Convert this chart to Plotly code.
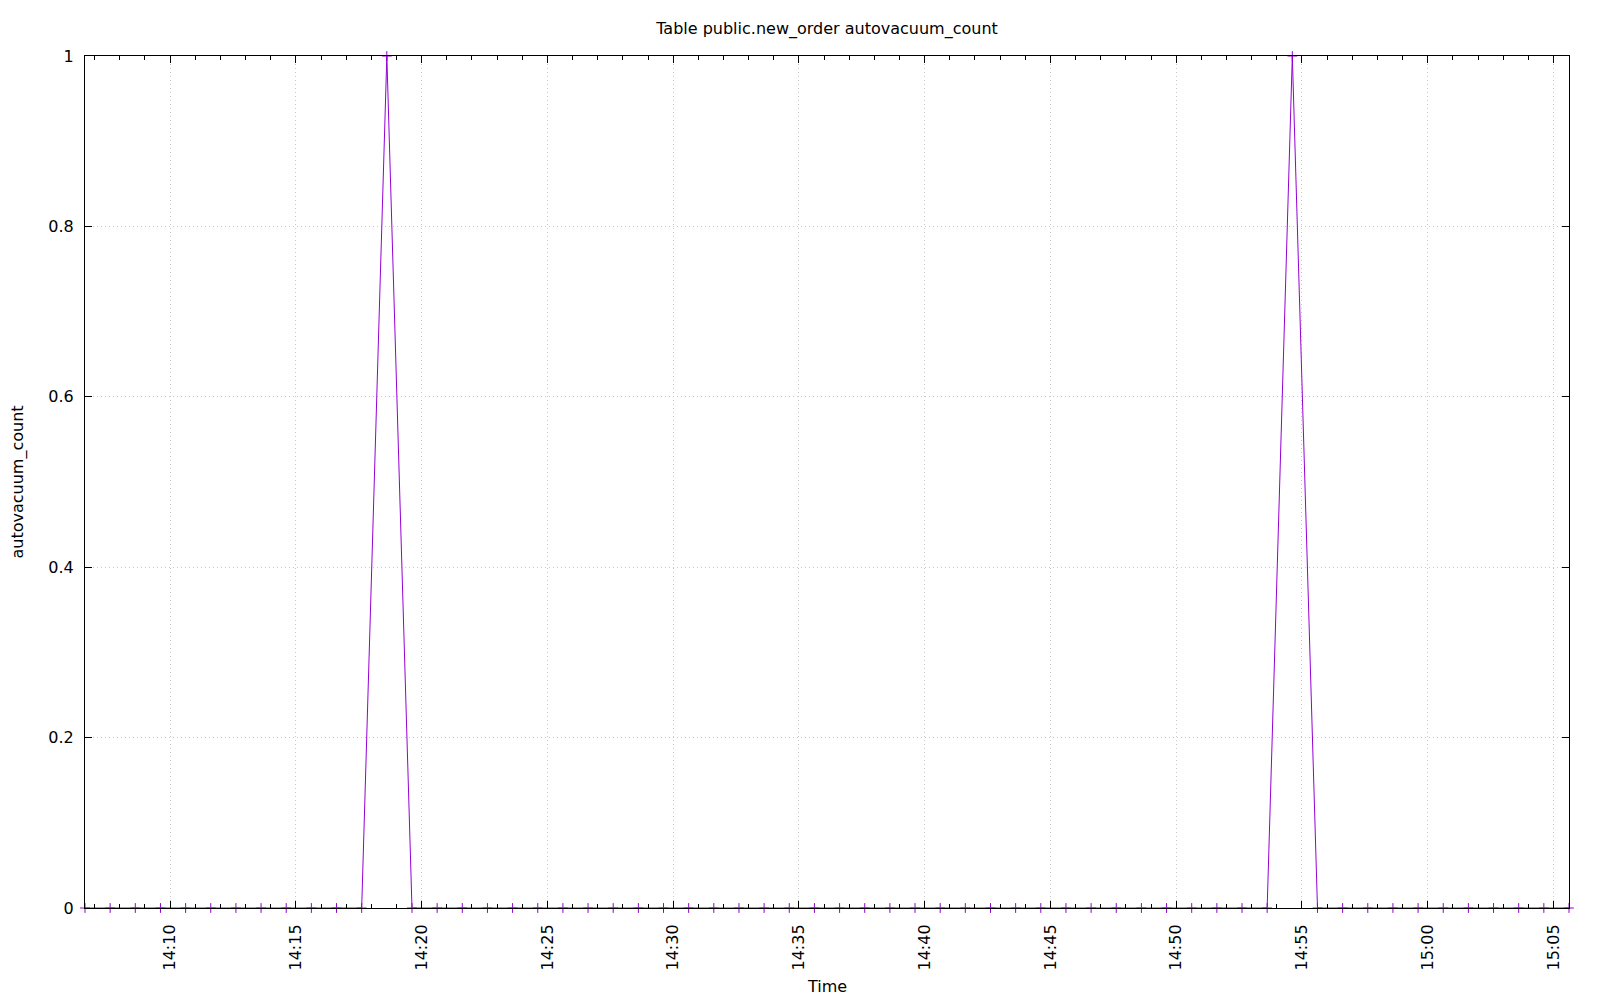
import pandas as pd
import plotly.graph_objects as go

# Sample times: one sample per minute
start_time = "2020-01-01 14:06:37"
n_samples = 60
times = pd.date_range(start=start_time, periods=n_samples, freq="60s")

autovacuum_count = [
    0, 0, 0, 0, 0, 0, 0, 0, 0, 0,
    0, 0, 1, 0, 0, 0, 0, 0, 0, 0,
    0, 0, 0, 0, 0, 0, 0, 0, 0, 0,
    0, 0, 0, 0, 0, 0, 0, 0, 0, 0,
    0, 0, 0, 0, 0, 0, 0, 0, 1, 0,
    0, 0, 0, 0, 0, 0, 0, 0, 0, 0,
]

title_text = "Table public.new_order autovacuum_count"
x_title = "Time"
y_title = "autovacuum_count"
y_tickvals = [0, 0.2, 0.4, 0.6, 0.8, 1]
y_ticktext = ["0", "0.2", "0.4", "0.6", "0.8", "1"]

color = "#9400D3"
font = "DejaVu Sans"
fsize = 16

fig = go.Figure()
fig.add_trace(go.Scatter(
    x=times, y=autovacuum_count,
    mode="lines+markers",
    line=dict(color=color, width=1),
    marker=dict(symbol="cross-thin", size=7, line=dict(color=color, width=1), color=color),
    cliponaxis=False,
    showlegend=False,
))

axis_common = dict(
    showline=True, linecolor="black", linewidth=1, mirror="ticks",
    ticks="inside", tickcolor="black", tickwidth=1,
    showgrid=True, gridcolor="#c8c8c8", griddash="1px,3px", gridwidth=1,
    zeroline=False,
    tickfont=dict(family=font, size=fsize, color="black"),
)

# page body has an 8px margin; figure sized so the plot lands at the reference pixels
fig.update_layout(
    width=1592, height=992,
    paper_bgcolor="white", plot_bgcolor="white",
    margin=dict(l=77, r=31, t=48, b=92, autoexpand=False),
    title=dict(text=title_text, x=0.5, xref="paper", xanchor="center",
               y=1 - 20.6 / 992, yanchor="middle",
               font=dict(family=font, size=fsize, color="black")),
    font=dict(family=font, size=fsize, color="black"),
    xaxis=dict(
        **axis_common,
        type="date",
        range=[times[0], times[-1]],
        tick0="2020-01-01 14:00:00", dtick=300000,
        tickformat="%H:%M", tickangle=-90, ticklen=7,
        ticklabelstandoff=9,
        minor=dict(ticks="inside", ticklen=4, dtick=60000, tick0="2020-01-01 14:00:00",
                   tickcolor="black", showgrid=False),
    ),
    yaxis=dict(
        **axis_common,
        range=[0, 1],
        tickmode="array", tickvals=y_tickvals, ticktext=y_ticktext,
        ticklen=7,
        ticklabelstandoff=7,
        title=dict(text=y_title, font=dict(family=font, size=fsize, color="black"), standoff=20),
    ),
    annotations=[dict(
        text=x_title, xref="paper", yref="paper", x=0.5, y=-78 / 852,
        xanchor="center", yanchor="middle", showarrow=False,
        font=dict(family=font, size=fsize, color="black"),
    )],
)

fig.write_html("out.html")
